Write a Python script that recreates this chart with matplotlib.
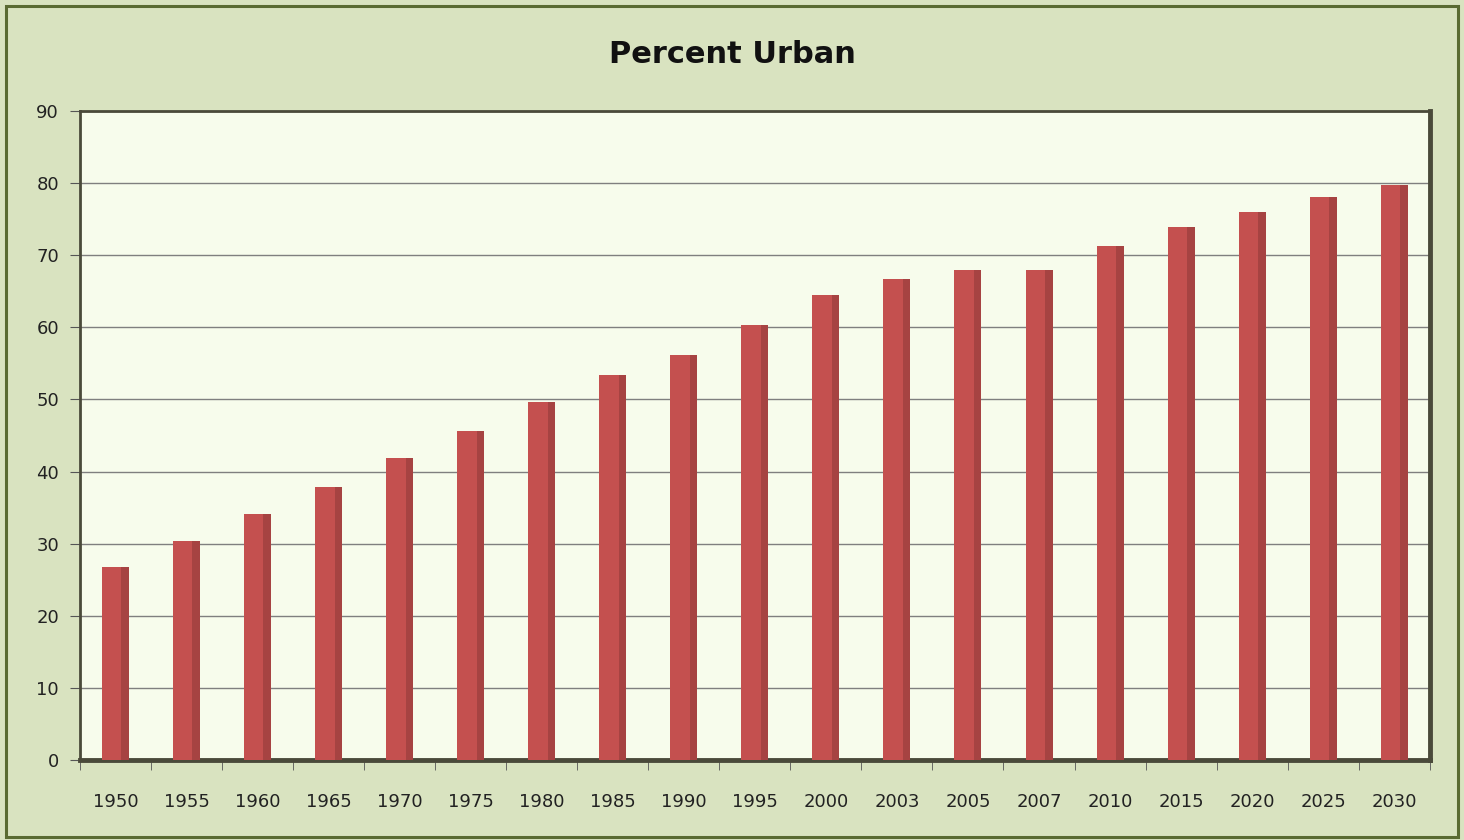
import matplotlib.pyplot as plt
import numpy as np
from matplotlib.patches import Rectangle

years = ["1950", "1955", "1960", "1965", "1970", "1975", "1980", "1985", "1990", "1995",
         "2000", "2003", "2005", "2007", "2010", "2015", "2020", "2025", "2030"]
percent = [26.8, 30.4, 34.1, 37.9, 41.9, 45.6, 49.6, 53.4, 56.2, 60.3,
           64.5, 66.7, 68.0, 68.0, 71.3, 73.9, 76.0, 78.1, 79.7]

bg = "#d9e3c0"
plot_bg = "#f7fcec"
bar_col = "#c4504f"
bar_dark = "#8e3a39"

fig = plt.figure(figsize=(14.64, 8.4), dpi=100, facecolor=bg)
# outer frame
fig.patches.append(Rectangle((0.004, 0.004), 0.992, 0.989, transform=fig.transFigure,
                             fill=False, edgecolor="#5a6b32", linewidth=2.2))

ax = fig.add_axes([0.0546, 0.0952, 0.922, 0.7727])
ax.set_facecolor(plot_bg)

x = np.arange(len(years))
w = 0.38
ax.bar(x, percent, width=w, color=bar_col, zorder=3)
# darker right side for 3D look
ax.bar(x + w * 0.36, percent, width=w * 0.28, color=bar_dark, alpha=0.55, zorder=4)

ax.set_xlim(-0.5, len(years) - 0.5)
ax.set_ylim(0, 90)
ax.set_yticks(range(0, 91, 10))
ax.grid(axis="y", color="#7f7f7f", linewidth=1, zorder=1)
ax.set_axisbelow(True)

ax.set_xticks(x)
ax.set_xticklabels(years)
ax.set_xticks(np.arange(-0.5, len(years), 1), minor=True)
ax.tick_params(axis="x", which="major", length=0, pad=24, labelsize=13, colors="#222222")
ax.tick_params(axis="x", which="minor", length=7, color="#555555", direction="out")
ax.tick_params(axis="y", length=7, color="#555555", labelsize=13, colors="#222222", pad=8)

for s in ["top", "left"]:
    ax.spines[s].set_color("#4a4a3a")
    ax.spines[s].set_linewidth(2)
for s in ["right", "bottom"]:
    ax.spines[s].set_color("#4a4a3a")
    ax.spines[s].set_linewidth(3.5)

fig.text(0.5, 0.935, "Percent Urban", ha="center", va="center",
         fontsize=22, fontweight="bold", color="#111111", family="DejaVu Sans")

fig.savefig("out.png", dpi=100, facecolor=bg)
